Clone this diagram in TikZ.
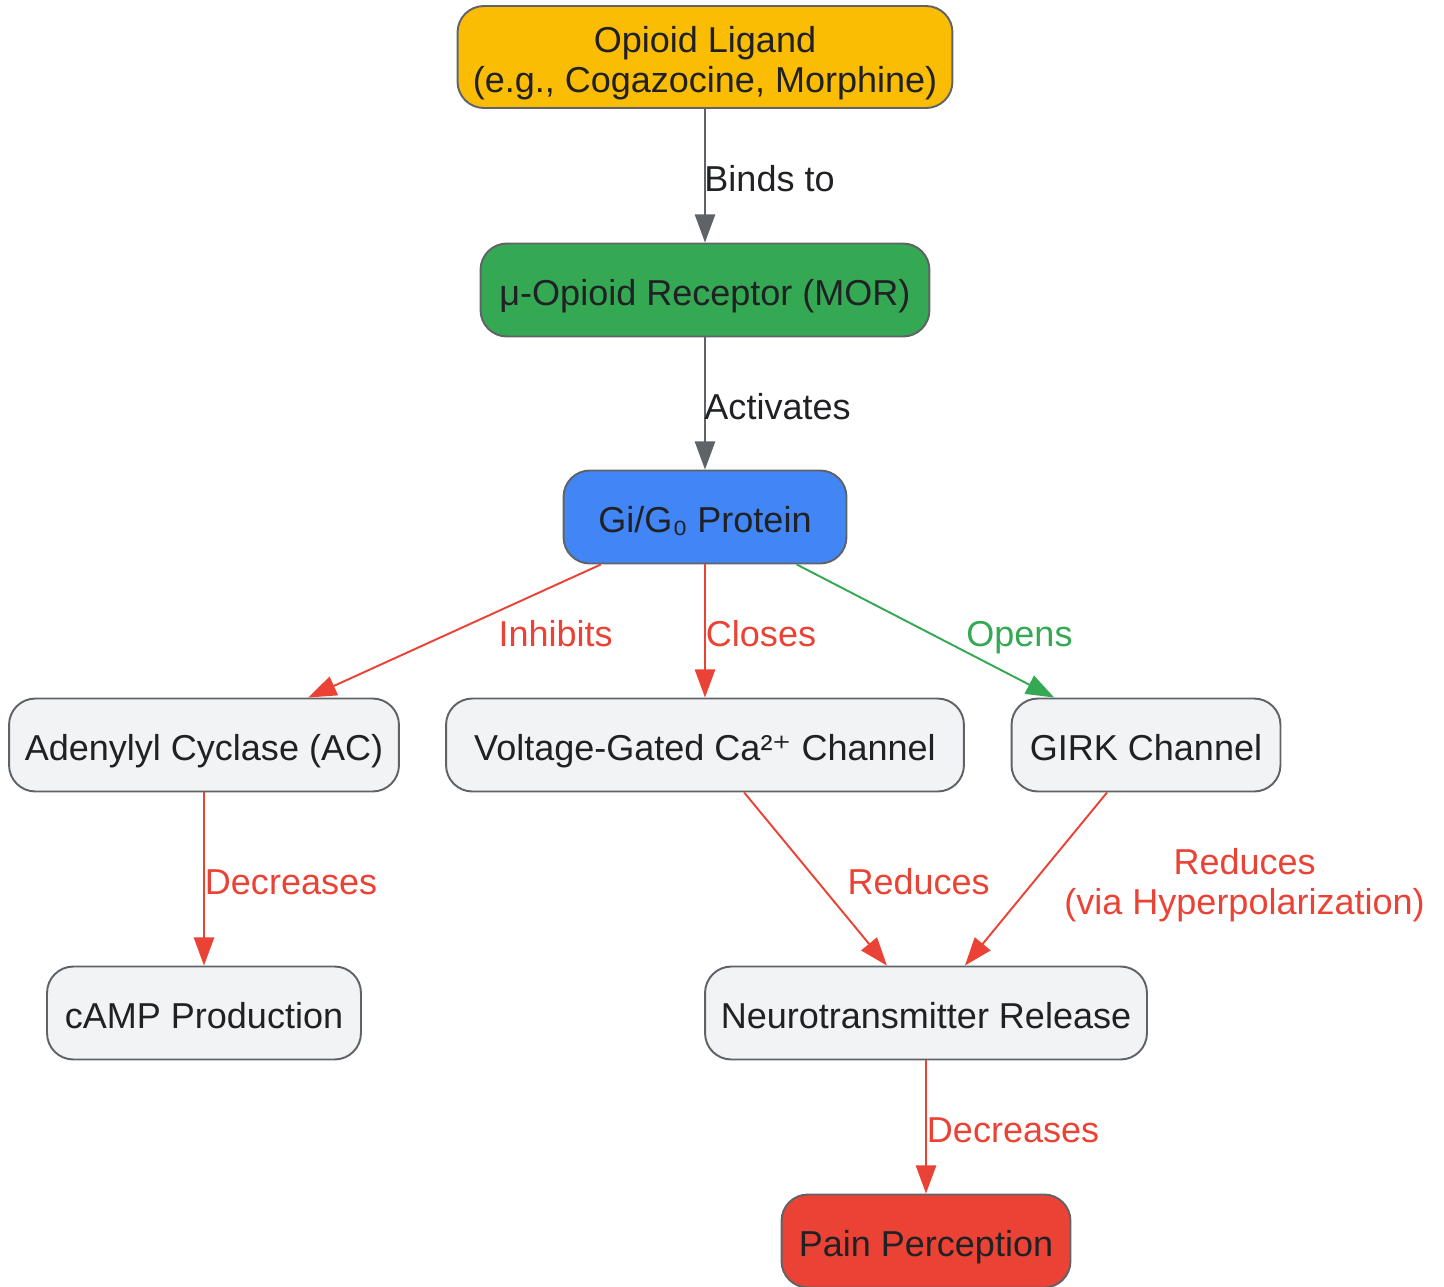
\documentclass[tikz,border=0pt]{standalone}
\usepackage{fontspec}
\setmainfont{Liberation Sans}
\newfontfamily\symfont{DejaVu Sans}
\usepackage{tikz}
\usetikzlibrary{arrows.meta}

\definecolor{ink}{HTML}{202124}
\definecolor{rim}{HTML}{5F6368}
\definecolor{pale}{HTML}{F1F3F4}
\definecolor{amber}{HTML}{FBBC04}
\definecolor{leaf}{HTML}{34A853}
\definecolor{sky}{HTML}{4285F4}
\definecolor{alarm}{HTML}{EA4335}
\newcommand{\mainsize}{\fontsize{20.5}{22.8}\selectfont}

\begin{document}
\begin{tikzpicture}[x=0.02cm, y=-0.02cm,
	box/.style={shape=rectangle, rounded corners=15pt, draw=rim, line width=1.1pt, fill=pale, text=ink, inner xsep=0pt, minimum height=1.86cm, text height=22pt, text depth=4.3pt, align=center, font=\mainsize},
	arr/.style={-{Triangle[length=16pt, width=11.5pt]}, line width=1.1pt},
	lbl/.style={anchor=west, inner sep=0pt, text height=22.3pt, text depth=4.3pt, align=center, font=\mainsize}]
	\useasboundingbox (0,0) rectangle (1444,1286);

	\node[box, fill=amber, minimum width=9.9cm, minimum height=2.04cm, text height=44.8pt] (lig) at (705,57) {Opioid Ligand\\(e.g., Cogazocine, Morphine)};
	\node[box, fill=leaf, minimum width=8.98cm] (mor) at (705,290) {μ-Opioid Receptor (MOR)};
	\node[box, fill=sky, minimum width=5.66cm] (gi) at (705,517) {Gi/G₀ Protein};
	\node[box, minimum width=7.8cm] (ac) at (204,745) {Adenylyl Cyclase (AC)};
	\node[box, minimum width=10.36cm] (vgcc) at (705,745) {Voltage-Gated Ca²{\symfont ⁺} Channel};
	\node[box, minimum width=5.38cm] (girk) at (1146,745) {GIRK Channel};
	\node[box, minimum width=6.28cm] (camp) at (204,1013) {cAMP Production};
	\node[box, minimum width=8.84cm] (nt) at (926,1013) {Neurotransmitter Release};
	\node[box, fill=alarm, minimum width=5.78cm] (pain) at (926,1241) {Pain Perception};

	\path [arr, color=rim] (lig) edge node[lbl, text=ink, xshift=-0.03cm] {Binds to} (mor);
	\path [arr, color=rim] (mor) edge node[lbl, text=ink, xshift=-0.03cm] {Activates} (gi);
	\path [arr, color=alarm] (gi) edge node[lbl, xshift=0.86cm] {Inhibits} (ac);
	\path [arr, color=alarm] (gi) edge node[lbl] {Closes} (vgcc);
	\path [arr, color=leaf] (gi) edge node[lbl, xshift=0.8cm] {Opens} (girk);
	\path [arr, color=alarm] (ac) edge node[lbl] {Decreases} (camp);
	\path [arr, color=alarm] (vgcc) edge node[lbl, xshift=0.62cm] {Reduces} (nt);
	\path [arr, color=alarm] (girk) edge node[lbl, xshift=0.55cm, text height=45.1pt] {Reduces\\(via Hyperpolarization)} (nt);
	\path [arr, color=alarm] (nt) edge node[lbl] {Decreases} (pain);
\end{tikzpicture}
\end{document}
